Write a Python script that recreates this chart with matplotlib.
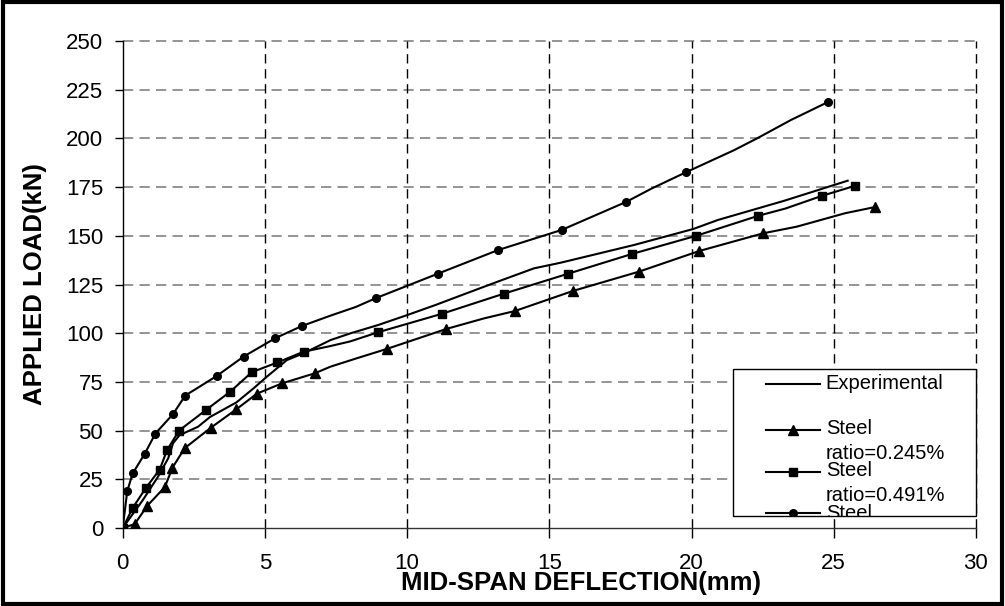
import matplotlib
matplotlib.use('Agg')
import matplotlib.pyplot as plt
from matplotlib.patches import Rectangle
from matplotlib.transforms import Bbox, TransformedBbox

plt.rcParams['font.family'] = ['Liberation Sans', 'DejaVu Sans']

# mid-span deflection (mm) vs applied load (kN)
exp_x = [0, 0.71, 1.24, 1.6, 1.77, 2.0, 2.65, 3.07, 4.0, 4.6, 5.07, 5.77, 6.36, 7.31, 8.02,
         8.98, 10, 11, 12, 13.17, 14.46, 15.4, 17.98, 20.06, 20.92, 23.26, 25.49]
exp_y = [0, 14.4, 26.3, 35.8, 43.5, 47.7, 52, 57, 64.5, 71.7, 77.7, 86.2, 89.7, 96.5, 100,
         104.2, 109.3, 114.5, 120, 126.4, 133.3, 136.2, 145.3, 153.5, 158.1, 168, 178.3]

tri_x = [0, 0.42, 0.87, 1.48, 1.75, 2.18, 3.1, 4.0, 4.72, 5.61, 6.75, 7.3, 8.2, 9.3, 11.38,
         12.7, 13.79, 15.83, 18.15, 20.27, 22.52, 23.7, 25.4, 26.46]
tri_y = [0, 2, 11.5, 21, 31, 41, 51.5, 61, 69, 74.3, 79.4, 82.8, 87, 92, 102.2,
         107.6, 111.4, 121.7, 131.6, 142.2, 151.3, 154.7, 161.6, 164.8]
tri_marks = [1, 2, 3, 4, 5, 6, 7, 8, 9, 10, 13, 14, 16, 17, 18, 19, 20, 23]

sq_x = [0, 0.36, 0.81, 1.3, 1.56, 1.98, 2.92, 3.78, 4.54, 5.44, 6.36, 7.3, 8.0, 8.98, 11.23,
        13.4, 15.65, 17.91, 20.16, 22.35, 23.3, 24.6, 25.73]
sq_y = [0, 10.5, 20.5, 30, 40, 50, 60.5, 70, 80, 85, 90.5, 93.4, 95.8, 100.5, 110,
        120.3, 130.5, 140.7, 150, 160.3, 164, 170.6, 175.6]
sq_marks = [0, 1, 2, 3, 4, 5, 6, 7, 8, 9, 10, 13, 14, 15, 16, 17, 18, 19, 21, 22]

circ_x = [0, 0.16, 0.35, 0.77, 1.15, 1.77, 2.2, 3.3, 4.25, 5.37, 6.3, 7.3, 8.2, 8.9, 11.07,
          13.2, 15.43, 17.7, 18.6, 19.8, 21.5, 22.3, 23.5, 24.8]
circ_y = [0, 19, 28, 38, 48.5, 58.5, 68, 78, 88, 97.5, 103.7, 109, 113.5, 118, 130.5,
          142.7, 153, 167.4, 174.3, 182.6, 194, 200, 209.5, 218.7]
circ_marks = [1, 2, 3, 4, 5, 6, 7, 8, 9, 10, 13, 14, 15, 16, 17, 19, 23]

labels = ['Experimental', 'Steel\nratio=0.245%', 'Steel\nratio=0.491%', 'Steel\nratio=0.982%']
x_ticks = [0, 5, 10, 15, 20, 25, 30]
y_ticks = [0, 25, 50, 75, 100, 125, 150, 175, 200, 225, 250]

fig = plt.figure(figsize=(10.05, 6.06), dpi=100)
fig.patches.append(Rectangle((0.003, 0.004), 0.994, 0.992, transform=fig.transFigure,
                             fill=False, edgecolor='black', linewidth=3))
ax = fig.add_axes([0.1221, 0.1287, 0.849, 0.8036])

lw = 1.5
ax.plot(exp_x, exp_y, color='black', lw=lw, zorder=3)
ax.plot(tri_x, tri_y, color='black', lw=lw, marker='^', ms=7, markevery=tri_marks, zorder=3)
ax.plot(sq_x, sq_y, color='black', lw=lw, marker='s', ms=5.5, markevery=sq_marks, zorder=3)
ax.plot(circ_x, circ_y, color='black', lw=lw, marker='o', ms=5.5, markevery=circ_marks, zorder=3)

ax.set_xlim(0, 30)
ax.set_ylim(0, 250)
ax.set_xticks(x_ticks)
ax.set_yticks(y_ticks)
ax.tick_params(axis='y', direction='out', length=6, width=1, labelsize=16, pad=8)
ax.tick_params(axis='x', direction='out', length=7, width=1, labelsize=16, pad=11)

dash = (0, (6.7, 4.1))
for v in y_ticks[1:]:
    ax.axhline(v, color='#777777', lw=1.1, linestyle=dash, zorder=1, clip_on=False)
for v in x_ticks[1:]:
    ax.axvline(v, color='black', lw=1.0, linestyle=dash, zorder=1, clip_on=False)
for s in ['top', 'right']:
    ax.spines[s].set_visible(False)
ax.spines['left'].set_linewidth(1.0)
ax.spines['bottom'].set_linewidth(1.0)
ax.spines['bottom'].set_color('#333333')

ax.text(0.537, -0.127, 'MID-SPAN DEFLECTION(mm)', transform=ax.transAxes, ha='center',
        va='baseline', fontsize=18.5, fontweight='bold')
ax.text(-0.103, 0.5, 'APPLIED LOAD(kN)', transform=ax.transAxes, ha='center', va='center',
        rotation=90, fontsize=18.5, fontweight='bold')

# legend box, clipped like the original
lx0, ly0, lw_box, lh_box = 0.7155, 0.0246, 0.2845, 0.302
ax.add_patch(Rectangle((lx0, ly0), lw_box, lh_box, transform=ax.transAxes, facecolor='white',
                       edgecolor='black', lw=1.0, zorder=5, clip_on=False))
clip = TransformedBbox(Bbox([[lx0, ly0], [lx0 + lw_box, ly0 + lh_box]]), ax.transAxes)

handles = [(None, 0.2957, 0.296), ('^', 0.2012, 0.179), ('s', 0.1156, 0.0914), ('o', 0.0308, 0.004)]
msizes = {'^': 7, 's': 5.5, 'o': 5.5}
for (mk, ly, ty), lab in zip(handles, labels):
    h, = ax.plot([0.7545, 0.8170], [ly, ly], transform=ax.transAxes, color='black', lw=lw, zorder=6)
    h.set_clip_box(clip)
    h.set_clip_path(None)
    if mk:
        m, = ax.plot([0.7857], [ly], transform=ax.transAxes, color='black', marker=mk,
                     ms=msizes[mk], zorder=6)
        m.set_clip_box(clip)
        m.set_clip_path(None)
    t = ax.text(0.824, ty, lab, transform=ax.transAxes, ha='left', va='center', fontsize=14.5,
                linespacing=1.4, zorder=6, clip_on=True)
    t.set_clip_box(clip)

fig.savefig('out.png', dpi=100)
